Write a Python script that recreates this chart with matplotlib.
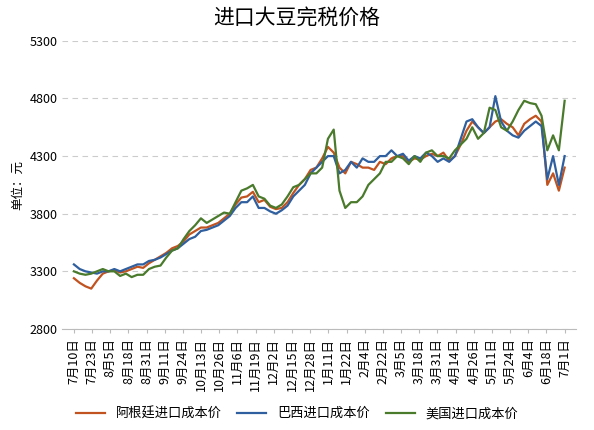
import matplotlib
matplotlib.use("Agg")
import matplotlib.pyplot as plt
import numpy as np

plt.rcParams['font.family'] = ['Noto Sans CJK SC', 'DejaVu Sans']

tick_labels = ["7月10日","7月23日","8月5日","8月18日","8月31日","9月11日","9月24日","10月13日","10月26日",
               "11月6日","11月19日","12月2日","12月15日","12月28日","1月11日","1月22日","2月4日","2月22日",
               "3月5日","3月18日","3月31日","4月14日","4月26日","5月11日","5月24日","6月4日","6月18日","7月1日"]

# values sampled 3 per tick interval
argentina = [3240,3200,3170,3150,3220,3280,3300,3310,3290,3300,3320,3340,3330,3370,3400,3430,3460,3500,
             3520,3560,3620,3650,3680,3680,3700,3720,3760,3800,3880,3940,3950,3990,3900,3920,3860,3840,
             3850,3900,3980,4050,4100,4180,4200,4280,4380,4330,4200,4150,4250,4230,4200,4200,4180,4250,
             4230,4280,4300,4300,4250,4280,4270,4300,4320,4300,4330,4260,4300,4400,4520,4600,4550,4500,
             4550,4600,4620,4580,4550,4480,4580,4620,4650,4600,4050,4150,4000,4200]
brazil = [3360,3320,3300,3290,3280,3300,3300,3320,3300,3320,3340,3360,3360,3390,3400,3420,3450,3480,
          3500,3540,3580,3600,3650,3660,3680,3700,3740,3780,3850,3900,3900,3950,3850,3850,3820,3800,
          3830,3870,3950,4000,4050,4150,4200,4250,4300,4300,4150,4180,4250,4200,4280,4250,4250,4300,
          4300,4350,4300,4320,4260,4300,4280,4330,4300,4250,4280,4250,4300,4450,4600,4620,4550,4500,
          4550,4820,4600,4520,4480,4460,4520,4560,4600,4560,4100,4300,4050,4300]
usa = [3300,3280,3270,3280,3300,3320,3300,3300,3260,3280,3250,3270,3270,3320,3340,3350,3420,3480,
       3500,3580,3650,3700,3760,3720,3750,3780,3810,3800,3900,4000,4020,4050,3950,3930,3870,3850,
       3880,3950,4030,4050,4100,4150,4150,4200,4450,4530,4000,3850,3900,3900,3950,4050,4100,4150,
       4250,4250,4300,4280,4230,4300,4250,4330,4350,4300,4300,4280,4350,4400,4450,4550,4450,4500,
       4720,4700,4550,4520,4600,4700,4780,4760,4750,4650,4350,4480,4350,4780]

n = len(argentina)
x = np.arange(n)
tick_pos = np.linspace(0, n - 1, len(tick_labels))

fig = plt.figure(figsize=(5.94, 4.30), dpi=100)
ax = fig.add_axes([0.105, 0.235, 0.865, 0.67])
ax.plot(x, argentina, color='#c0531f', lw=1.6, label='阿根廷进口成本价')
ax.plot(x, brazil, color='#2f5f9e', lw=1.6, label='巴西进口成本价')
ax.plot(x, usa, color='#4a7a2c', lw=1.6, label='美国进口成本价')

ax.set_ylim(2800, 5300)
ax.set_yticks(range(2800, 5301, 500))
ax.set_xlim(-2, n + 1)
ax.set_xticks(tick_pos)
ax.set_xticklabels(tick_labels, rotation=90, fontsize=9)
ax.tick_params(axis='y', labelsize=9, length=0)
ax.tick_params(axis='x', length=3, color='#bbbbbb')
ax.yaxis.grid(True, ls=(0, (5, 4)), color='#cccccc', lw=0.8)
for s in ['top', 'right', 'left']:
    ax.spines[s].set_visible(False)
ax.spines['bottom'].set_color('#bbbbbb')
ax.set_ylabel('单位：元', fontsize=9)
fig.suptitle('进口大豆完税价格', fontsize=15, y=0.985)
fig.legend(loc='lower center', ncol=3, frameon=False, fontsize=9.5, bbox_to_anchor=(0.5, -0.005),
           handlelength=2.2, columnspacing=1.2)
fig.savefig('out.png')
